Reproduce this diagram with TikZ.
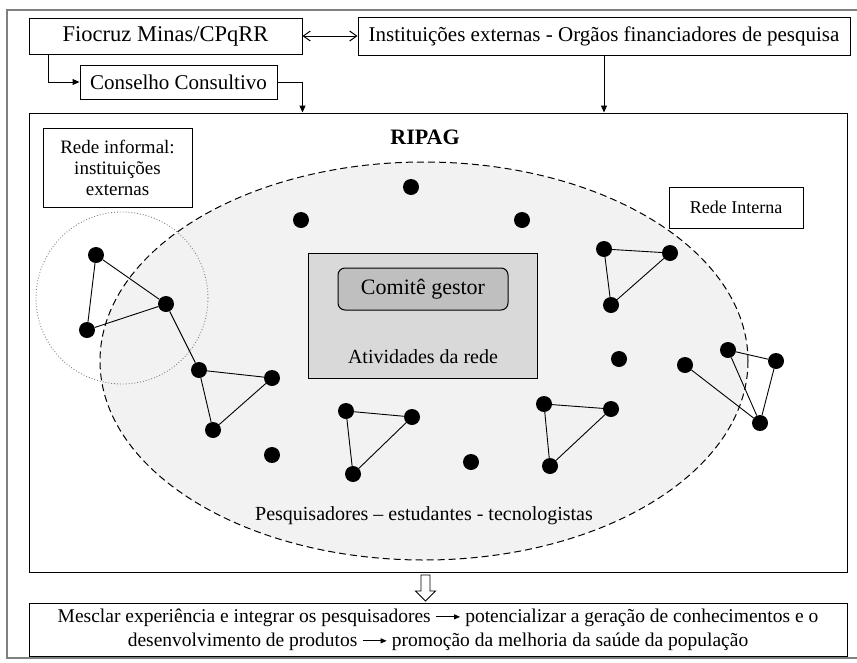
\documentclass[tikz,border=0pt]{standalone}
\usepackage{fontspec}
\setmainfont{Liberation Serif}
\usepackage{xcolor}
\usepackage{tikz}
\usetikzlibrary{arrows.meta}
\usetikzlibrary{calc}

\definecolor{framegray}{HTML}{808080}
\definecolor{netgray}{HTML}{F2F2F2}
\definecolor{actgray}{HTML}{D9D9D9}
\definecolor{comgray}{HTML}{BFBFBF}

\tikzset{
    box/.style={draw, line width=1pt, inner sep=0pt, align=center},
    dot/.style={circle, fill=black, minimum size=16pt, inner sep=0pt},
    tie/.style={line width=0.9pt},
    arr/.style={line width=1pt, -{Triangle[length=7pt,width=6pt]}},
    dblarr/.style={line width=1pt, {Straight Barb[length=7pt,width=10pt]}-{Straight Barb[length=7pt,width=10pt]}},
}
\newcommand{\seta}{\tikz[baseline=-0.6ex]\draw[line width=0.8pt,-{Triangle[length=6pt,width=5pt]}] (0,0) -- (24pt,0);}

\begin{document}
\begin{tikzpicture}[x=1pt, y=-1pt, font=\fontsize{21}{25}\selectfont]
    \useasboundingbox (0,0) rectangle (857,662);
    \draw[framegray, line width=2pt] (857,10) -- (7,10) -- (7,658) -- (857,658);

    \node[box, minimum width=273pt, minimum height=36pt, font=\fontsize{22.5}{26}\selectfont] (fio) at (165.5,36) {Fiocruz Minas/CPqRR};
    \node[box, minimum width=492pt, minimum height=38pt] (inst) at (604,36) {Instituições externas - Orgãos financiadores de pesquisa};
    \node[box, minimum width=197pt, minimum height=34pt] (cons) at (178.5,82) {Conselho Consultivo};
    \node[box, minimum width=818pt, minimum height=459pt] (ripag) at (438,342.5) {};

    \draw[dblarr] (fio) -- (inst);
    \draw[arr] ($(fio.south west)+(20,0)$) |- (cons.west);
    \draw[arr] (cons.east) -| (ripag.north -| fio.east);
    \draw[arr] (inst.south) -- (inst.south |- ripag.north);

    \fill[netgray] (424,361) ellipse [x radius=324, y radius=199];
    \draw[line width=1pt, dash pattern=on 7pt off 4pt] (424,361) ellipse [x radius=324, y radius=199];

    \node[font=\bfseries\fontsize{22}{26}\selectfont] (ripagtxt) at (425,137) {RIPAG};
    \node[box, fill=white, minimum width=149pt, minimum height=79pt, font=\fontsize{19}{21}\selectfont] (informal) at (117.5,167.5) {Rede informal:\\ instituições\\ externas};
    \node[box, fill=white, minimum width=134pt, minimum height=41pt, font=\fontsize{18}{21}\selectfont] (interna) at (736,207.5) {Rede Interna};

    \node[box, fill=actgray, minimum width=229pt, minimum height=125pt] (ativ) at (422.5,315.5) {};
    \node[box, fill=comgray, rounded corners=7pt, minimum width=170pt, minimum height=42pt, font=\fontsize{22}{26}\selectfont] (comite) at (423,289) {Comitê gestor};
    \node[font=\fontsize{20}{24}\selectfont] (ativtxt) at (423,357) {Atividades da rede};
    \node[font=\fontsize{20}{24}\selectfont] (pesq) at (424,516) {Pesquisadores -- estudantes - tecnologistas};

    \foreach \n/\p in {t1/{411,187}, t2/{301,220}, t3/{522,220},
        a1/{96,255}, a2/{87,330}, a3/{166,304},
        b1/{199,370}, b2/{272,378}, b3/{213,430}, s1/{272,455},
        c1/{346,411}, c2/{412,417}, c3/{353,474}, s2/{471,462},
        d1/{544,404}, d2/{611,409}, d3/{550,466}, s3/{619,359},
        e1/{604,249}, e2/{670,253}, e3/{611,305},
        f1/{685,365}, f2/{728,350}, f3/{776,361}, f4/{760,423}}
        \node[dot] (\n) at (\p) {};
    \foreach \u/\v in {a1/a2, a1/a3, a2/a3, a3/b1, b1/b2, b1/b3, b2/b3,
        c1/c2, c1/c3, c2/c3, d1/d2, d1/d3, d2/d3, e1/e2, e1/e3, e2/e3,
        f1/f4, f2/f3, f2/f4, f3/f4}
        \draw[tie] (\u) -- (\v);

    \draw[framegray, dotted, line width=0.9pt] (122,298) circle [radius=86];

    \node[box, minimum width=818pt, minimum height=53pt, font=\fontsize{19.5}{24}\selectfont] (goal) at (438,629.5) {Mesclar experiência e integrar os pesquisadores \seta{} potencializar a geração de conhecimentos e o\\ desenvolvimento de produtos \seta{} promoção da melhoria da saúde da população};
    \draw[line width=0.9pt, fill=white] (421,575) -- (430,575) -- (430,591) -- (435.5,591) -- (425.5,601) -- (415.5,591) -- (421,591) -- cycle;
\end{tikzpicture}
\end{document}
